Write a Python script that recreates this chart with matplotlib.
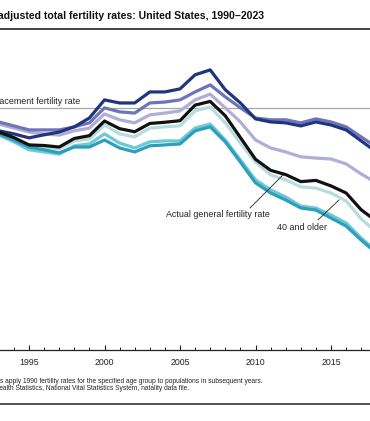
import matplotlib
matplotlib.use("Agg")
import matplotlib.pyplot as plt
from matplotlib.lines import Line2D
import numpy as np

years = list(range(1990, 2024))

actual = [2.081, 2.063, 2.046, 2.020, 2.002, 1.978, 1.976, 1.971, 1.999, 2.008,
          2.056, 2.031, 2.021, 2.048, 2.052, 2.057, 2.108, 2.120, 2.073, 2.002,
          1.931, 1.895, 1.881, 1.858, 1.862, 1.844, 1.821, 1.766, 1.729, 1.706,
          1.641, 1.664, 1.657, 1.621]
under20 = [2.081, 2.054, 2.044, 2.024, 2.014, 2.001, 2.011, 2.020, 2.037, 2.066,
           2.125, 2.115, 2.115, 2.151, 2.151, 2.161, 2.207, 2.223, 2.158, 2.115,
           2.063, 2.053, 2.050, 2.040, 2.053, 2.043, 2.027, 1.991, 1.955, 1.922,
           1.864, 1.894, 1.889, 1.857]
age20_24 = [2.081, 2.067, 2.055, 2.053, 2.040, 2.027, 2.027, 2.027, 2.037, 2.050,
            2.099, 2.086, 2.082, 2.115, 2.118, 2.125, 2.151, 2.174, 2.135, 2.099,
            2.066, 2.060, 2.060, 2.050, 2.063, 2.053, 2.037, 2.004, 1.971, 1.956,
            1.910, 1.939, 1.941, 1.920]
age25_29 = [2.081, 2.073, 2.060, 2.046, 2.033, 2.020, 2.014, 2.010, 2.024, 2.033,
            2.079, 2.060, 2.050, 2.076, 2.082, 2.089, 2.125, 2.144, 2.099, 2.053,
            1.994, 1.968, 1.955, 1.939, 1.935, 1.932, 1.916, 1.883, 1.854, 1.839,
            1.787, 1.800, 1.791, 1.765]
age30_34 = [2.081, 2.069, 2.049, 2.014, 1.994, 1.971, 1.962, 1.952, 1.971, 1.971,
            1.994, 1.968, 1.955, 1.975, 1.978, 1.981, 2.024, 2.037, 1.988, 1.922,
            1.854, 1.821, 1.798, 1.772, 1.765, 1.739, 1.713, 1.667, 1.625, 1.619,
            1.571, 1.580, 1.576, 1.550]
age35_39 = [2.081, 2.061, 2.042, 2.010, 1.988, 1.962, 1.955, 1.948, 1.975, 1.981,
            2.014, 1.984, 1.968, 1.988, 1.991, 1.991, 2.033, 2.046, 1.994, 1.929,
            1.864, 1.831, 1.808, 1.778, 1.772, 1.749, 1.723, 1.674, 1.631, 1.600,
            1.536, 1.548, 1.539, 1.503]
age40plus = [2.081, 2.062, 2.044, 2.017, 1.997, 1.975, 1.971, 1.965, 1.991, 1.997,
             2.043, 2.014, 2.004, 2.033, 2.037, 2.040, 2.089, 2.102, 2.050, 1.984,
             1.922, 1.880, 1.864, 1.841, 1.837, 1.821, 1.795, 1.736, 1.694, 1.664,
             1.600, 1.620, 1.612, 1.575]
replacement = 2.1

W, H = 370, 421
fig = plt.figure(figsize=(W / 100, H / 100), dpi=100)
ax = fig.add_axes([-46.5 / W, (H - 350) / H, 498.3 / W, 315 / H])
ax.set_xlim(1990, 2023)
ax.set_ylim(1.308, 2.337)

ax.axhline(replacement, color="#a8a8a8", lw=0.9, zorder=1)

series = [
    (age25_29, "#aeaed6"),
    (age40plus, "#b6dcdc"),
    (age35_39, "#6ec9d7"),
    (age30_34, "#2e9fba"),
    (age20_24, "#6c75b8"),
    (under20, "#21357f"),
    (actual, "#111111"),
]
for vals, col in series:
    ax.plot(years, vals, color=col, lw=2.3, solid_joinstyle="round",
            solid_capstyle="round", zorder=3)

for s in ["left", "right", "top"]:
    ax.spines[s].set_visible(False)
ax.spines["bottom"].set_color("#222222")
ax.spines["bottom"].set_linewidth(0.9)
ax.set_yticks([])
ax.set_xticks(range(1995, 2020, 5))
ax.set_xticks(range(1990, 2024), minor=True)
ax.tick_params(axis="x", which="major", direction="in", length=3.6, width=0.8,
               color="#222222", labelsize=6.3, pad=6, labelcolor="#222222")
ax.tick_params(axis="x", which="minor", direction="in", length=2.0, width=0.7,
               color="#222222")
for lab in ax.get_xticklabels():
    lab.set_family(["Liberation Sans", "DejaVu Sans"])

lbl = dict(fontsize=6.4, family=["Liberation Sans", "DejaVu Sans"], color="#222222")
ax.text(1998.38, 2.104, "Replacement fertility rate", ha="right", va="bottom", **lbl)
ax.text(2007.48, 1.749, "Actual general fertility rate", ha="center", va="center", **lbl)
ax.plot([2009.64, 2011.82], [1.772, 1.880], color="#222222", lw=0.6, zorder=4)
ax.text(2013.11, 1.707, "40 and older", ha="center", va="center", **lbl)
ax.plot([2014.14, 2015.53], [1.733, 1.798], color="#222222", lw=0.6, zorder=4)

fig.text(264 / W, (H - 16) / H,
         "Figure 2. Actual and adjusted total fertility rates: United States, 1990\u20132023",
         ha="right", va="center", fontsize=7.6, fontweight="bold",
         family=["Liberation Sans Narrow", "Liberation Sans", "DejaVu Sans"], color="#111111")
fig.add_artist(Line2D([0, 1], [(H - 29) / H] * 2, transform=fig.transFigure,
                      color="#222222", lw=1.2))

foot = dict(fontsize=4.78, family=["Liberation Sans", "DejaVu Sans"], color="#222222")
fig.text(263 / W, (H - 381.7) / H,
         "NOTE: Adjusted rates apply 1990 fertility rates for the specified age group to populations in subsequent years.",
         ha="right", va="center", **foot)
fig.text(189 / W, (H - 389) / H,
         "SOURCE: National Center for Health Statistics, National Vital Statistics System, natality data file.",
         ha="right", va="center", **foot)
fig.add_artist(Line2D([0, 1], [(H - 404) / H] * 2, transform=fig.transFigure,
                      color="#333333", lw=1.2))

fig.savefig("out.png", dpi=100)
